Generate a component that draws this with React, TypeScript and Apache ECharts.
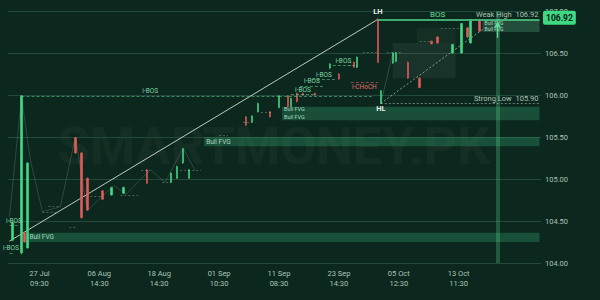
import { useEffect, useRef } from 'react';
import * as echarts from 'echarts';

// ---------- data ----------
const BAR_COUNT = 178;
const tickIdx = [10, 30, 50, 70, 90, 110, 130, 150];
const tickLabels = ['27 Jul\n09:30', '06 Aug\n14:30', '18 Aug\n14:30', '01 Sep\n10:30', '11 Sep\n08:30', '23 Sep\n14:30', '05 Oct\n12:30', '13 Oct\n11:30'];

const candleIdx = [1, 4, 5, 6, 22, 24, 26, 31, 34, 38, 46, 54, 56, 58, 60, 79, 81, 83, 87, 90, 93, 94, 96, 98, 102, 107, 110, 115, 116, 123, 124, 128, 129, 133, 137, 141, 143, 148, 151, 153, 154, 157];
const opens = [104.27, 104.12, 104.36, 104.18, 105.49, 105.31, 105.01, 104.86, 104.81, 104.83, 105.11, 104.96, 105.01, 105.19, 105.01, 105.74, 105.68, 105.80, 105.80, 105.85, 105.99, 105.86, 106.02, 106.02, 106.02, 106.32, 106.25, 106.39, 106.33, 106.89, 105.90, 106.38, 106.40, 106.39, 106.20, 106.64, 106.69, 106.50, 106.50, 106.80, 106.62, 106.88];
const closes = [104.48, 105.99, 104.25, 105.19, 105.31, 104.54, 104.63, 104.76, 104.90, 104.90, 104.95, 105.07, 105.15, 105.36, 105.11, 105.64, 105.75, 105.90, 105.74, 105.99, 105.86, 105.96, 105.92, 106.00, 106.00, 106.37, 106.19, 106.33, 106.45, 106.39, 106.05, 106.50, 106.50, 106.20, 106.09, 106.61, 106.62, 106.60, 106.85, 106.69, 106.88, 106.76];
const lows = [104.26, 104.10, 104.24, 104.17, 105.30, 104.53, 104.62, 104.75, 104.80, 104.82, 104.94, 104.95, 105.00, 105.18, 105.00, 105.63, 105.67, 105.79, 105.73, 105.84, 105.85, 105.85, 105.91, 105.99, 105.99, 106.31, 106.18, 106.32, 106.32, 106.38, 105.90, 106.37, 106.39, 106.19, 106.08, 106.60, 106.61, 106.49, 106.49, 106.68, 106.61, 106.75];
const highs = [104.49, 106.00, 104.37, 105.20, 105.50, 105.32, 105.02, 104.87, 104.91, 104.91, 105.12, 105.08, 105.16, 105.37, 105.12, 105.75, 105.76, 105.91, 105.81, 106.00, 106.00, 105.97, 106.03, 106.03, 106.03, 106.38, 106.26, 106.40, 106.46, 106.92, 106.06, 106.51, 106.51, 106.40, 106.21, 106.65, 106.70, 106.61, 106.86, 106.81, 106.89, 106.89];

// thin swing zig-zag (left part) and HL leg
const zigIdx = [0, 4, 7, 11, 17, 22, 26, 31, 35, 39, 44, 47, 52, 58, 62];
const zigVal = [104.55, 105.98, 105.22, 104.61, 104.67, 105.50, 104.62, 104.80, 104.92, 104.82, 105.00, 105.11, 104.96, 105.37, 105.10];
const hlLegIdx = [124, 128];
const hlLegVal = [105.90, 106.50];

// trend lines
const mainTrendIdx = [0, 123];
const mainTrendVal = [104.26, 106.90];
const dotTrendIdx = [124, 158];
const dotTrendVal = [105.90, 106.78];

// short dashed swing levels: [start, end, price]
const swingStart = [11, 13, 20, 27, 37, 44, 51, 57, 70, 78, 84, 113, 118, 126, 137, 144, 154];
const swingEnd = [16, 17, 22, 31, 43, 47, 54, 64, 73, 82, 88, 116, 123, 131, 141, 151, 158];
const swingPrice = [104.61, 104.67, 104.42, 104.80, 104.81, 105.11, 104.96, 105.11, 105.52, 105.68, 105.80, 106.35, 106.51, 106.51, 106.64, 106.79, 106.90];

// i-BOS levels
const ibosStart = [0, 0, 4, 94, 97, 101, 108];
const ibosEnd = [3, 1, 90, 102, 105, 109, 115];
const ibosPrice = [104.45, 104.12, 105.99, 106.01, 106.11, 106.19, 106.35];

// FVG zones: [start, end, low, high]
const fvgStart = [6, 65, 91, 91, 158];
const fvgEnd = [177, 177, 177, 177, 177];
const fvgLow = [104.25, 105.39, 105.79, 105.70, 106.75];
const fvgHigh = [104.36, 105.50, 105.86, 105.79, 106.89];

const weakHigh = 106.92;
const strongLow = 105.90;
const lastPrice = 106.92;
const bosLevel = 106.90;
const chochLevel = 106.15;
const currentBar = 163;

export default function App() {
  const ref = useRef<HTMLDivElement>(null);
  useEffect(() => {
    document.body.style.margin = '0';
    const chart = echarts.init(ref.current!, undefined, { renderer: 'svg' });
    const categories = Array.from({ length: BAR_COUNT }, (_, i) => String(i));
    const candleData: any[] = Array.from({ length: BAR_COUNT }, () => '-');
    candleIdx.forEach((ix, k) => {
      candleData[ix] = [opens[k], closes[k], lows[k], highs[k]];
    });

    const labelCol = '#a9c4b6';
    const green = '#43d985';
    const red = '#e35b5b';
    const swingStyle = { color: 'rgba(200,220,210,0.45)', width: 0.7, type: [2, 2] };

    const markLines: any[] = [];
    swingStart.forEach((s, k) => {
      markLines.push([
        { coord: [s, swingPrice[k]], lineStyle: swingStyle, label: { show: false } },
        { coord: [swingEnd[k], swingPrice[k]] },
      ]);
    });
    ibosStart.forEach((s, k) => {
      markLines.push([
        {
          coord: [s, ibosPrice[k]],
          lineStyle: { color: 'rgba(90,200,140,0.75)', width: 0.8, type: [3, 2] },
          label: { show: true, formatter: 'i-BOS', position: 'insideMiddleTop', color: '#7fd6a6', fontSize: 6.5, distance: 1 },
        },
        { coord: [ibosEnd[k], ibosPrice[k]] },
      ]);
    });
    // continuation of i-BOS dashed level
    markLines.push([
      { coord: [90, 105.99], lineStyle: { color: 'rgba(90,200,140,0.75)', width: 0.8, type: [3, 2] }, label: { show: false } },
      { coord: [121, 105.99] },
    ]);
    // i-CHoCH
    markLines.push([
      {
        coord: [114, chochLevel],
        lineStyle: { color: 'rgba(227,91,91,0.8)', width: 0.8, type: [3, 2] },
        label: { show: true, formatter: 'i-CHoCH', position: 'insideMiddleBottom', color: '#e36b6b', fontSize: 6.5, distance: 1 },
      },
      { coord: [123, chochLevel] },
    ]);
    // BOS / Weak High
    markLines.push([
      {
        coord: [123, bosLevel],
        lineStyle: { color: '#52d98e', width: 1.5, type: 'solid' },
        label: { show: true, formatter: 'Weak High  ' + weakHigh.toFixed(2), position: 'insideEndTop', color: labelCol, fontSize: 7.5, distance: 1 },
      },
      { coord: [177, bosLevel] },
    ]);
    // Strong Low
    markLines.push([
      {
        coord: [124, strongLow],
        lineStyle: { color: 'rgba(200,220,210,0.6)', width: 0.8, type: [2, 2] },
        label: { show: true, formatter: 'Strong Low  ' + strongLow.toFixed(2), position: 'insideEndTop', color: labelCol, fontSize: 7.5, distance: 1 },
      },
      { coord: [177, strongLow] },
    ]);
    // current bar band
    markLines.push({
      xAxis: String(currentBar),
      lineStyle: { color: 'rgba(90,220,150,0.28)', width: 4, type: 'solid' },
      label: { show: false },
    });
    // arrow
    markLines.push([
      { coord: [currentBar, 106.68], symbol: 'none', lineStyle: { color: '#5fe09a', width: 1.3, type: 'solid' }, label: { show: false } },
      { coord: [currentBar, 106.87], symbol: 'arrow', symbolSize: 6 },
    ]);
    // price tag
    markLines.push({
      yAxis: lastPrice,
      lineStyle: { color: 'rgba(0,0,0,0)', width: 0 },
      label: {
        show: true, position: 'end', formatter: lastPrice.toFixed(2), backgroundColor: '#3fd883', color: '#052014',
        fontWeight: 'bold', fontSize: 8.5, padding: [3, 3, 2, 3], borderRadius: 2, distance: 2, opacity: 1,
      },
    });

    const markAreas: any[] = fvgStart.map((s, k) => {
      const isTop = k === 4;
      const small = k === 2 || k === 3;
      return [
        {
          coord: [s, fvgLow[k]],
          itemStyle: { color: isTop ? 'rgba(120,220,170,0.22)' : k === 3 ? 'rgba(60,170,120,0.30)' : 'rgba(52,160,112,0.34)' },
          label: isTop
            ? { show: true, formatter: 'Bull FVG\nBull FVG', position: 'insideLeft', color: '#a9d9c0', fontSize: 5, lineHeight: 5.5, distance: 2 }
            : {
                show: true, formatter: 'Bull FVG', position: 'insideLeft', color: '#a9d9c0',
                fontSize: small ? 5.5 : 6.5, lineHeight: small ? 5 : 7, distance: 2,
                offset: k === 2 ? [0, -0.5] : k === 3 ? [0, 0.5] : [0, 0],
              },
        },
        { coord: [fvgEnd[k], fvgHigh[k]] },
      ];
    });
    markAreas.push([
      { coord: [128, 106.2], itemStyle: { color: 'rgba(255,255,255,0.06)' }, label: { show: false } },
      { coord: [149, 106.62] },
    ]);
    markAreas.push([
      { coord: [136, 106.62], itemStyle: { color: 'rgba(255,255,255,0.04)' }, label: { show: false } },
      { coord: [149, 106.8] },
    ]);

    const lblStyle = { color: '#e8eee9', fontSize: 7.5, fontWeight: 'bold' };

    chart.setOption({
      animation: false,
      backgroundColor: '#0c271d',
      textStyle: { fontFamily: 'Roboto, sans-serif' },
      grid: { left: 8, right: 59, top: 11, bottom: 37 },
      graphic: [
        {
          type: 'text', x: 274, y: 146, z: 0, silent: true,
          style: {
            text: 'SMARTMONEY.PK', fill: 'rgba(255,255,255,0.035)', fontSize: 52, fontWeight: 'bold',
            fontFamily: 'Roboto', textAlign: 'center', textVerticalAlign: 'middle', align: 'center', verticalAlign: 'middle',
          },
        },
      ],
      xAxis: {
        type: 'category',
        data: categories,
        boundaryGap: true,
        axisLine: { show: false },
        axisTick: { show: false },
        splitLine: { show: false },
        axisLabel: {
          interval: (i: number) => tickIdx.includes(i),
          formatter: (_v: string, i: number) => tickLabels[tickIdx.indexOf(i)] ?? '',
          color: labelCol, fontSize: 7.5, lineHeight: 9.5, margin: 6,
        },
      },
      yAxis: {
        type: 'value', position: 'right', min: 104, max: 107, interval: 0.5, scale: true,
        axisLine: { show: false }, axisTick: { show: false },
        splitLine: { lineStyle: { color: '#22493a', width: 1 } },
        axisLabel: { color: labelCol, fontSize: 7.5, margin: 4, formatter: (v: number) => v.toFixed(2) },
      },
      series: [
        {
          type: 'line', data: zigIdx.map((ix, k) => [ix, zigVal[k]]), symbol: 'none', silent: true,
          lineStyle: { color: 'rgba(200,220,210,0.3)', width: 0.6 }, z: 1,
        },
        {
          type: 'line', data: hlLegIdx.map((ix, k) => [ix, hlLegVal[k]]), symbol: 'none', silent: true,
          lineStyle: { color: 'rgba(200,220,210,0.35)', width: 0.6 }, z: 1,
        },
        {
          type: 'line', data: mainTrendIdx.map((ix, k) => [ix, mainTrendVal[k]]), symbol: 'none', silent: true,
          lineStyle: { color: 'rgba(235,240,236,0.8)', width: 1 }, z: 3,
        },
        {
          type: 'line', data: dotTrendIdx.map((ix, k) => [ix, dotTrendVal[k]]), symbol: 'none', silent: true,
          lineStyle: { color: 'rgba(225,235,230,0.7)', width: 0.8, type: [2, 2] }, z: 3,
        },
        {
          type: 'candlestick',
          data: candleData,
          barWidth: 2,
          z: 4,
          itemStyle: { color: green, color0: red, borderColor: green, borderColor0: red, borderWidth: 0.6 },
          markArea: { silent: true, z: 1, data: markAreas },
          markLine: { silent: true, symbol: ['none', 'none'], data: markLines, precision: 2 },
          markPoint: {
            silent: true,
            symbol: 'circle',
            symbolSize: 0,
            data: [
              { coord: [123, 106.92], label: { show: true, formatter: 'LH', position: 'top', distance: 2, ...lblStyle } },
              { coord: [124, 105.90], label: { show: true, formatter: 'HL', position: 'bottom', distance: 1, ...lblStyle } },
              { coord: [143, bosLevel], label: { show: true, formatter: 'BOS', position: 'top', distance: 1, color: '#5fe09a', fontSize: 8 } },
            ],
          },
        },
      ],
    });
    return () => chart.dispose();
  }, []);
  return <div ref={ref} style={{ position: 'fixed', left: 0, top: 0, width: 600, height: 300 }} />;
}
